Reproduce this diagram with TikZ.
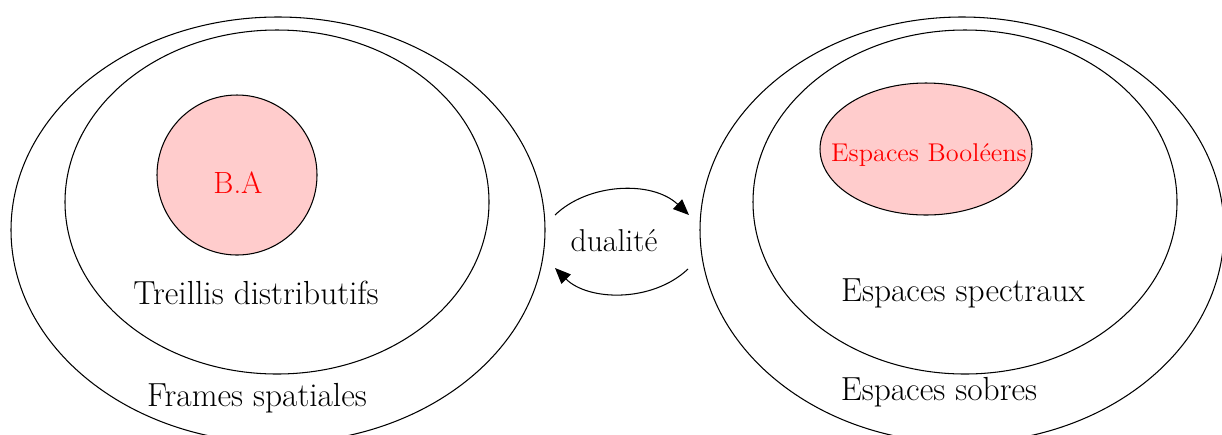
\documentclass[tikz,border=0pt]{standalone}
\usetikzlibrary{arrows.meta}
\definecolor{pinkfill}{RGB}{255,204,204}
\tikzset{
  setline/.style={draw=black,line width=0.6pt},
  bigtext/.style={font=\fontsize{19}{22}\selectfont,inner sep=0pt},
  redtext/.style={text=red,inner sep=0pt},
  dualarrow/.style={line width=0.6pt,-{Triangle[length=9pt,width=7.5pt]}}
}
\begin{document}
\begin{tikzpicture}[x=0.02cm,y=-0.02cm]
\useasboundingbox (0,0) rectangle (1222,434);
\begin{scope}
\clip (0,0) rectangle (1222,434);
% left side
\draw[setline] (278,230) ellipse [x radius=267,y radius=213];
\draw[setline] (277,202) ellipse [x radius=212,y radius=172];
\draw[setline,fill=pinkfill] (237,175) circle [radius=80];
% right side
\draw[setline] (962,230) ellipse [x radius=262,y radius=213];
\draw[setline] (965,202) ellipse [x radius=212,y radius=172];
\draw[setline,fill=pinkfill] (926,149) ellipse [x radius=106,y radius=66];
\end{scope}
\node[redtext,font=\fontsize{17.5}{20}\selectfont] (ba) at (238,183) {B.A};
\node[bigtext] (td) at (256,293) {Treillis distributifs};
\node[bigtext] (fs) at (257,398) {Frames spatiales};
\node[redtext,font=\fontsize{14.6}{17}\selectfont,xscale=1.025] (eb) at (929,155) {Espaces Booléens};
\node[bigtext] (es) at (963,293) {Espaces spectraux};
\node[bigtext] (eso) at (939,392) {Espaces sobres};
\node[font=\fontsize{18}{21}\selectfont,inner sep=0pt] (dual) at (614,241) {dualité};
\coordinate (a1) at (555,215);
\coordinate (a2) at (689,215);
\coordinate (b1) at (688,269);
\coordinate (b2) at (555,268);
\draw[dualarrow] (a1) .. controls (588,183) and (652,180) .. (a2);
\draw[dualarrow] (b1) .. controls (652,303) and (588,301) .. (b2);
\end{tikzpicture}
\end{document}
